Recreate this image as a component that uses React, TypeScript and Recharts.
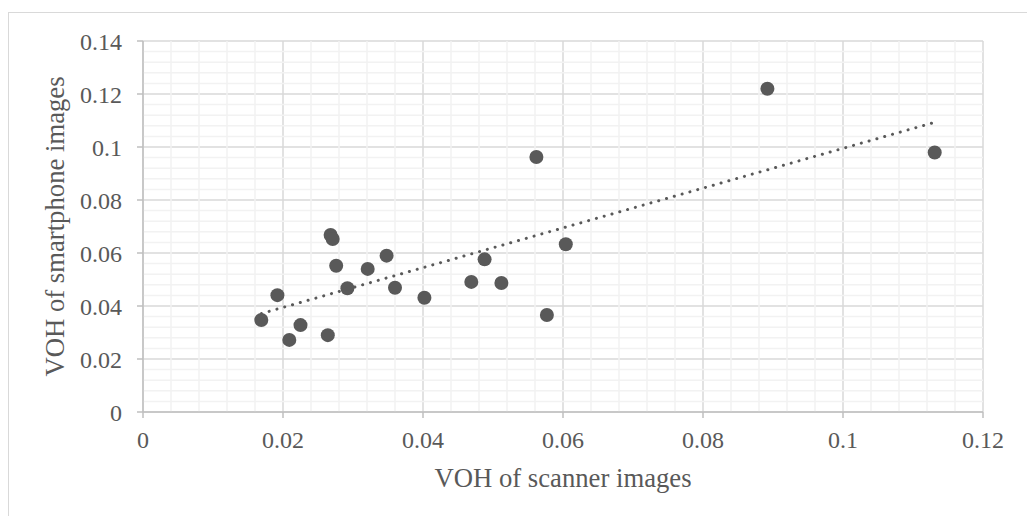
import {
  ScatterChart,
  Scatter,
  XAxis,
  YAxis,
  CartesianGrid,
  ReferenceLine,
  Label,
} from 'recharts';

// VOH values
const scannerVOH = [
  0.0169, 0.0192, 0.0209, 0.0225, 0.0264, 0.0268, 0.0271, 0.0276, 0.0292, 0.0321, 0.0348,
  0.036, 0.0402, 0.0469, 0.0488, 0.0512, 0.0562, 0.0577, 0.0604, 0.0892, 0.1131,
];
const smartphoneVOH = [
  0.0347, 0.0441, 0.0272, 0.0328, 0.029, 0.0668, 0.0653, 0.0552, 0.0467, 0.054, 0.059,
  0.0469, 0.0431, 0.0491, 0.0576, 0.0487, 0.0962, 0.0366, 0.0633, 0.122, 0.0979,
];

const xTicks = [0, 0.02, 0.04, 0.06, 0.08, 0.1, 0.12];
const yTicks = [0, 0.02, 0.04, 0.06, 0.08, 0.1, 0.12, 0.14];
// minor gridlines (every 0.004, majors left out)
const xMinor = [
  0.004, 0.008, 0.012, 0.016, 0.024, 0.028, 0.032, 0.036, 0.044, 0.048, 0.052, 0.056, 0.064,
  0.068, 0.072, 0.076, 0.084, 0.088, 0.092, 0.096, 0.104, 0.108, 0.112, 0.116,
];
const yMinor = [
  0.004, 0.008, 0.012, 0.016, 0.024, 0.028, 0.032, 0.036, 0.044, 0.048, 0.052, 0.056, 0.064,
  0.068, 0.072, 0.076, 0.084, 0.088, 0.092, 0.096, 0.104, 0.108, 0.112, 0.116, 0.124, 0.128,
  0.132, 0.136,
];

const points = scannerVOH.map((x, i) => ({ x, y: smartphoneVOH[i] }));

// linear trendline (least squares), drawn between min and max x like Excel
function linearTrend(xs: number[], ys: number[]) {
  const n = xs.length;
  const mx = xs.reduce((a, b) => a + b, 0) / n;
  const my = ys.reduce((a, b) => a + b, 0) / n;
  let sxy = 0;
  let sxx = 0;
  xs.forEach((x, i) => {
    sxy += (x - mx) * (ys[i] - my);
    sxx += (x - mx) * (x - mx);
  });
  const slope = sxy / sxx;
  const b = my - slope * mx;
  const x0 = Math.min(...xs);
  const x1 = Math.max(...xs);
  return [
    { x: x0, y: slope * x0 + b },
    { x: x1, y: slope * x1 + b },
  ];
}
const trend = linearTrend(scannerVOH, smartphoneVOH);

const TEXT = '#595959';
const FONT = '"Liberation Serif", "Times New Roman", serif';
const tickStyle = { fill: TEXT, fontSize: 24, fontFamily: FONT };

export default function App() {
  return (
    <div
      style={{
        position: 'absolute',
        left: 0,
        top: 0,
        width: 1027,
        height: 516,
        overflow: 'hidden',
        background: '#fff',
      }}
    >
      <div
        style={{
          position: 'absolute',
          left: 8,
          top: 12,
          width: 1100,
          height: 600,
          border: '1px solid #d9d9d9',
        }}
      />
      <div style={{ position: 'absolute', left: 0, top: 0 }}>
        <ScatterChart width={1027} height={516} margin={{ top: 41, right: 44, bottom: 24, left: 43 }}>
          {xMinor.map((v) => (
            <ReferenceLine key={'mx' + v} x={v} stroke="#f2f2f2" strokeWidth={1.5} />
          ))}
          {yMinor.map((v) => (
            <ReferenceLine key={'my' + v} y={v} stroke="#f2f2f2" strokeWidth={1.5} />
          ))}
          <CartesianGrid stroke="#d9d9d9" strokeWidth={1.5} />
          <XAxis
            type="number"
            dataKey="x"
            domain={[0, 0.12]}
            ticks={xTicks}
            height={80}
            tick={tickStyle}
            tickSize={6}
            tickMargin={13}
            axisLine={{ stroke: '#bfbfbf', strokeWidth: 1.5 }}
            tickLine={{ stroke: '#bfbfbf', strokeWidth: 1.5 }}
          >
            <Label
              content={({ viewBox }: any) => (
                <text
                  x={viewBox.x + viewBox.width / 2}
                  y={487}
                  textAnchor="middle"
                  fill={TEXT}
                  fontSize={26.7}
                  fontFamily={FONT}
                >
                  VOH of scanner images
                </text>
              )}
            />
          </XAxis>
          <YAxis
            type="number"
            dataKey="y"
            domain={[0, 0.14]}
            ticks={yTicks}
            width={100}
            tick={tickStyle}
            tickSize={6}
            tickMargin={15}
            axisLine={{ stroke: '#bfbfbf', strokeWidth: 1.5 }}
            tickLine={{ stroke: '#bfbfbf', strokeWidth: 1.5 }}
          >
            <Label
              content={({ viewBox }: any) => {
                const cy = viewBox.y + viewBox.height / 2;
                return (
                  <text
                    x={64}
                    y={cy}
                    transform={`rotate(-90 64 ${cy})`}
                    textAnchor="middle"
                    fill={TEXT}
                    fontSize={26.7}
                    fontFamily={FONT}
                  >
                    VOH of smartphone images
                  </text>
                );
              }}
            />
          </YAxis>
          <Scatter
            data={points}
            fill={TEXT}
            isAnimationActive={false}
            shape={(p: any) => <circle cx={p.cx} cy={p.cy} r={7} fill={TEXT} />}
          />
          <Scatter
            data={trend}
            isAnimationActive={false}
            line={{ stroke: TEXT, strokeWidth: 3, strokeDasharray: '0.1 8', strokeLinecap: 'round' }}
            shape={() => <g />}
          />
        </ScatterChart>
      </div>
    </div>
  );
}
